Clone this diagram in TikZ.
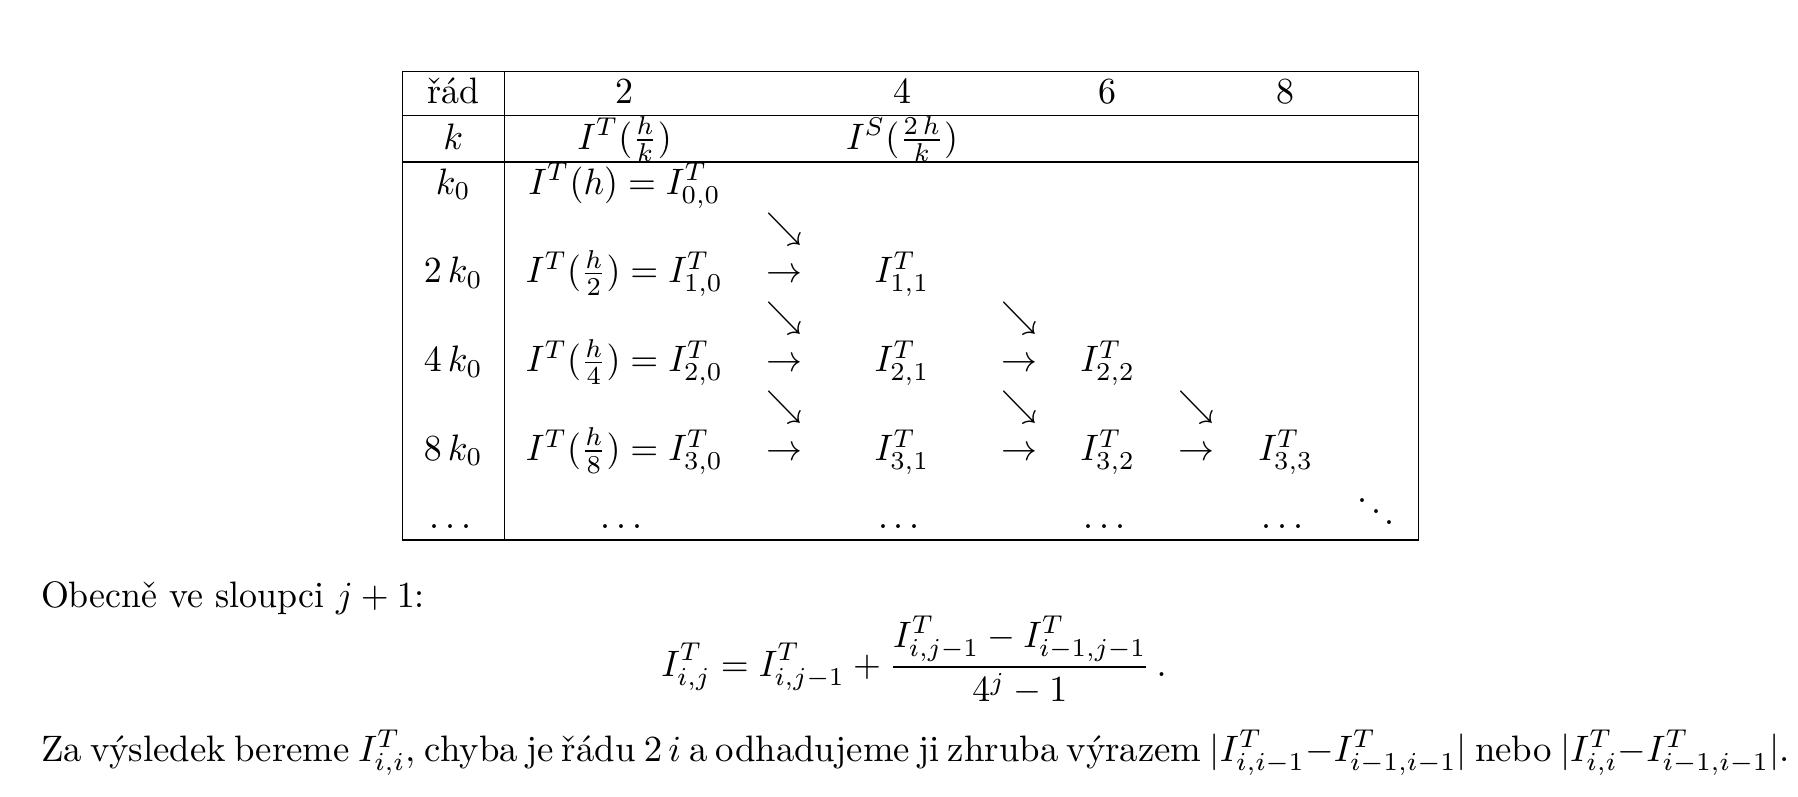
\documentclass[tikz,border=0pt]{standalone}
\usepackage{fontspec}
\usepackage{graphicx}
\newcommand\nx[1]{\scalebox{0.975}[1]{#1}}
\newcommand\mydots{.\kern1.67pt.\kern1.67pt.\kern1.67pt}
\begin{document}
\begin{tikzpicture}[x=0.27174pt,y=-0.27174pt,
  every node/.style={inner sep=0pt,outer sep=0pt,font=\fontsize{10}{12}\selectfont},
  cell/.style={anchor=base},
  para/.style={anchor=base west},
  rule/.style={line width=0.4pt}]
\useasboundingbox (0,0) rectangle (1798,796);
% table frame
\coordinate (TL) at (402.3,71.3);
\coordinate (TR) at (1418.3,71.3);
\coordinate (BL) at (402.3,540);
\coordinate (BR) at (1418.3,540);
\coordinate (ST) at (504.3,71.3);
\coordinate (SB) at (504.3,540);
\coordinate (H1L) at (402.3,115.7);
\coordinate (H1R) at (1418.3,115.7);
\coordinate (H2L) at (402.3,162);
\coordinate (H2R) at (1418.3,162);
\draw[rule] (TL) rectangle (BR);
\draw[rule] (ST) -- (SB);
\draw[rule] (H1L) -- (H1R);
\draw[rule] (H2L) -- (H2R);
% header rows
\node[cell] (h0) at (453.3,103.3) {\nx{řád}};
\node[cell] (h1) at (624.5,103.3) {\nx{2}};
\node[cell] (h2) at (902,103.3) {\nx{4}};
\node[cell] (h3) at (1107.8,103.3) {\nx{6}};
\node[cell] (h4) at (1285.8,103.3) {\nx{8}};
\node[cell] (k) at (453.3,149.3) {\nx{$k$}};
\node[cell] (kT) at (624.5,149.3) {\nx{$I^T(\frac{h}{k})$}};
\node[cell] (kS) at (902,149.3) {\nx{$I^S(\frac{2\,h}{k})$}};
% row k0
\node[cell] (r0a) at (453.3,194) {\nx{$k_0$}};
\node[cell] (r0b) at (624.5,194) {\nx{$I^T(h)=I^T_{0,0}$}};
% arrow row 1
\node[cell] (d1a) at (784,238.4) {\nx{$\searrow$}};
% row 2k0
\node[cell] (r1a) at (453.3,282.8) {\nx{$2\,k_0$}};
\node[cell] (r1b) at (624.5,282.8) {\nx{$I^T(\frac{h}{2})=I^T_{1,0}$}};
\node[cell] (r1c) at (784,282.8) {\nx{$\rightarrow$}};
\node[cell] (r1d) at (902,282.8) {\nx{$I^T_{1,1}$}};
% arrow row 2
\node[cell] (d2a) at (784,327.2) {\nx{$\searrow$}};
\node[cell] (d2b) at (1019.6,327.2) {\nx{$\searrow$}};
% row 4k0
\node[cell] (r2a) at (453.3,371.6) {\nx{$4\,k_0$}};
\node[cell] (r2b) at (624.5,371.6) {\nx{$I^T(\frac{h}{4})=I^T_{2,0}$}};
\node[cell] (r2c) at (784,371.6) {\nx{$\rightarrow$}};
\node[cell] (r2d) at (902,371.6) {\nx{$I^T_{2,1}$}};
\node[cell] (r2e) at (1019.6,371.6) {\nx{$\rightarrow$}};
\node[cell] (r2f) at (1107.8,371.6) {\nx{$I^T_{2,2}$}};
% arrow row 3
\node[cell] (d3a) at (784,416) {\nx{$\searrow$}};
\node[cell] (d3b) at (1019.6,416) {\nx{$\searrow$}};
\node[cell] (d3c) at (1196,416) {\nx{$\searrow$}};
% row 8k0
\node[cell] (r3a) at (453.3,460.4) {\nx{$8\,k_0$}};
\node[cell] (r3b) at (624.5,460.4) {\nx{$I^T(\frac{h}{8})=I^T_{3,0}$}};
\node[cell] (r3c) at (784,460.4) {\nx{$\rightarrow$}};
\node[cell] (r3d) at (902,460.4) {\nx{$I^T_{3,1}$}};
\node[cell] (r3e) at (1019.6,460.4) {\nx{$\rightarrow$}};
\node[cell] (r3f) at (1107.8,460.4) {\nx{$I^T_{3,2}$}};
\node[cell] (r3g) at (1196,460.4) {\nx{$\rightarrow$}};
\node[cell] (r3h) at (1285.8,460.4) {\nx{$I^T_{3,3}$}};
% dots row
\node[cell] (r4a) at (453.3,528) {\nx{\mydots}};
\node[cell] (r4b) at (624.5,528) {\nx{\mydots}};
\node[cell] (r4c) at (902,528) {\nx{\mydots}};
\node[cell] (r4d) at (1107.8,528) {\nx{\mydots}};
\node[cell] (r4e) at (1285.8,528) {\nx{\mydots}};
\node[cell] (r4f) at (1376,528) {\nx{$\ddots$}};
% text below
\node[para] (t1) at (41,607.5) {\nx{Obecně ve sloupci $j+1$:}};
\node[cell] (f) at (914,676) {\nx{$\displaystyle I^T_{i,j}=I^T_{i,j-1}+\frac{I^T_{i,j-1}-I^T_{i-1,j-1}}{4^j-1}\,.$}};
\node[para] (t2) at (41,761) {\hbox to 471.7pt{Za výsledek bereme $I^T_{i,i}$, chyba je řádu $2\,i$ a odhadujeme ji zhruba výrazem $|I^T_{i,i-1}-I^T_{i-1,i-1}|$ nebo $|I^T_{i,i}-I^T_{i-1,i-1}|$.}};
\end{tikzpicture}
\end{document}
